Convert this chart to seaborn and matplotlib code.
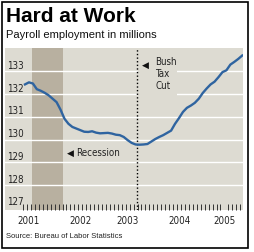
import matplotlib
matplotlib.use("Agg")
import matplotlib.pyplot as plt
import matplotlib.transforms as mtransforms
from matplotlib.patches import Rectangle
import numpy as np
import pandas as pd
import seaborn as sns

# ---- data (monthly, Jan 2001 = 0) ----
month_index = list(range(56))
payroll_millions = [
    132.43, 132.52, 132.47, 132.22, 132.15, 132.06, 131.95, 131.80, 131.65, 131.32,
    130.92, 130.70, 130.56, 130.49, 130.42, 130.35, 130.34, 130.37, 130.31, 130.28,
    130.29, 130.30, 130.27, 130.22, 130.20, 130.12, 129.98, 129.86, 129.79, 129.78,
    129.79, 129.81, 129.92, 130.03, 130.12, 130.20, 130.30, 130.40, 130.70, 130.95,
    131.22, 131.40, 131.50, 131.62, 131.80, 132.05, 132.25, 132.43, 132.55, 132.75,
    132.97, 133.05, 133.30, 133.42, 133.55, 133.70,
]
year_labels = ["2001", "2002", "2003", "2004", "2005"]
year_label_pos = [1.0, 14.0, 26.0, 39.2, 50.5]
y_ticks = [127, 128, 129, 130, 131, 132, 133]
recession_start, recession_end = 1.8, 9.6
tax_cut_month = 28.3

title = "Hard at Work"
subtitle = "Payroll employment in millions"
source = "Source: Bureau of Labor Statistics"

df = pd.DataFrame({"month": month_index, "payroll": payroll_millions})

BG = "#dddbd2"
SHADE = "#b8b0a0"
LINE = "#2f64a0"
NARROW = "DejaVu Sans"
STRETCH = "condensed"

W, H = 254, 252
fig = plt.figure(figsize=(W / 100, H / 100), dpi=100)
fig.patch.set_facecolor("white")

ax = fig.add_axes([5 / W, (H - 210) / H, 238 / W, 162 / H])
ax.set_facecolor(BG)
for s in ax.spines.values():
    s.set_visible(False)

ax.set_xlim(-5.06, 55.2)
ax.set_ylim(126.91, 134.03)

ax.axvspan(recession_start, recession_end, color=SHADE, lw=0, zorder=0.5)
for v in y_ticks[1:]:
    ax.axhline(v, color="white", lw=1.0, zorder=1)

# background behind the "Bush Tax Cut" note
ax.add_patch(Rectangle((tax_cut_month + 0.2, 131.85), 9.9, 3.0, facecolor=BG,
                       edgecolor="none", zorder=1.5))

ax.axvline(tax_cut_month, color="black", lw=1.0, ls=(0, (1, 1.6)), zorder=2)

sns.lineplot(data=df, x="month", y="payroll", ax=ax, color=LINE, lw=1.7, zorder=3)
ax.set_xlabel("")
ax.set_ylabel("")

# y tick labels inside the plot, above the gridlines
ax.set_yticks(y_ticks)
ax.set_yticklabels([str(v) for v in y_ticks])
ax.tick_params(axis="y", length=0, pad=-1.5, labelsize=7, labelcolor="#222222")
offset = mtransforms.ScaledTranslation(0, 6.5 / 100, fig.dpi_scale_trans)
for lab in ax.get_yticklabels():
    lab.set_horizontalalignment("left")
    lab.set_family(NARROW)
    lab.set_fontstretch(STRETCH)
    lab.set_transform(lab.get_transform() + offset)

# x ticks: year labels + monthly minor ticks
ax.set_xticks(year_label_pos)
ax.set_xticklabels(year_labels)
ax.set_xticks(np.arange(-0.5, 55.0, 1.0), minor=True)
ax.tick_params(axis="x", which="major", length=0, pad=4, labelsize=7, labelcolor="#222222")
ax.tick_params(axis="x", which="minor", direction="in", length=4, width=0.7, color="#333333")
for lab in ax.get_xticklabels():
    lab.set_family(NARROW)
    lab.set_fontstretch(STRETCH)

# annotations
ax.text(10.6, 129.4, "\u25c0", fontsize=6.5, va="center", ha="left", color="#111111",
        family="DejaVu Sans", zorder=4)
ax.text(12.9, 129.4, "Recession", fontsize=7, va="center", ha="left", color="#222222",
        family=NARROW, fontstretch=STRETCH, zorder=4)
ax.text(29.6, 133.26, "\u25c0", fontsize=6.5, va="center", ha="left", color="#111111",
        family="DejaVu Sans", zorder=4)
ax.text(33.0, 133.62, "Bush\nTax\nCut", fontsize=7, va="top", ha="left", color="#222222",
        family=NARROW, fontstretch=STRETCH, linespacing=1.2, zorder=4)

# titles and source
fig.text(6 / W, 1 - 22 / H, title, fontsize=15, fontweight="bold",
         family="Liberation Sans", va="baseline", ha="left", color="black")
fig.text(6 / W, 1 - 37.5 / H, subtitle, fontsize=8, family="Liberation Sans",
         va="baseline", ha="left", color="#111111")
fig.text(6 / W, 1 - 237 / H, source, fontsize=5.5, family="Liberation Sans",
         va="center", ha="left", color="#222222")

# outer frame
fig.add_artist(Rectangle((2 / W, (H - 248) / H), 246 / W, 246 / H, fill=False,
                         edgecolor="black", lw=1.2, transform=fig.transFigure))

fig.savefig("out.png", dpi=100, facecolor="white")
